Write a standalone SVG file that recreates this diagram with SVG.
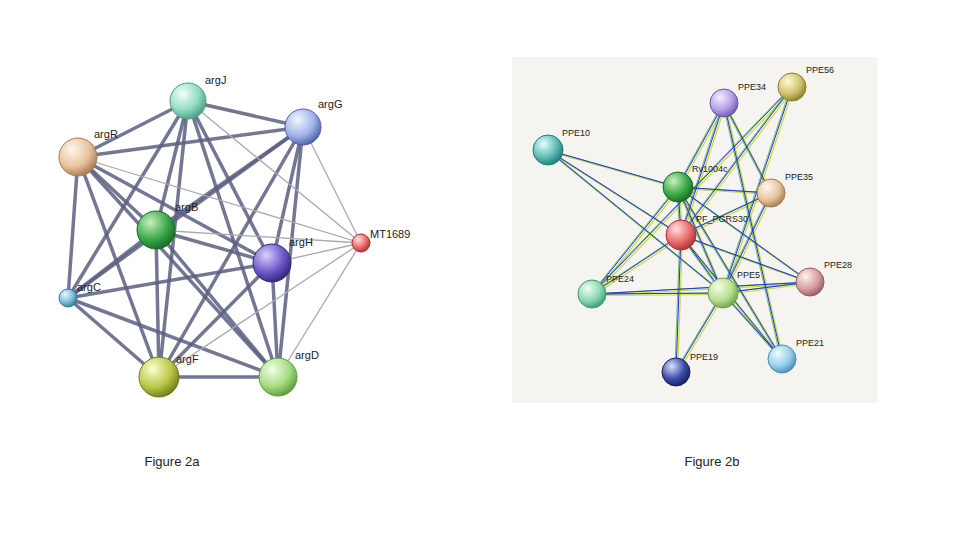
<svg xmlns="http://www.w3.org/2000/svg" xmlns:xlink="http://www.w3.org/1999/xlink" width="966" height="544" viewBox="0 0 966 544">
<style>
.l{font-family:"Liberation Sans",Arial,sans-serif;font-size:11px;fill:#222}
.s{font-family:"Liberation Sans",Arial,sans-serif;font-size:9px;fill:#222}
.cap{font-family:"Liberation Sans",Arial,sans-serif;font-size:13px;fill:#222;text-anchor:middle}
.t{stroke:#5b5f80;stroke-width:3.5;stroke-opacity:0.85}
.g{stroke:#a8a8b4;stroke-width:1.3}
.n{stroke-width:1}
</style>
<defs>
<radialGradient id="gJ" cx="0.35" cy="0.3" r="0.75"><stop offset="0" stop-color="#f4fff9"/><stop offset="0.6" stop-color="#92dcc0"/><stop offset="1" stop-color="#4a9c80"/></radialGradient>
<radialGradient id="gG" cx="0.35" cy="0.3" r="0.75"><stop offset="0" stop-color="#f2f5ff"/><stop offset="0.6" stop-color="#9fb4e8"/><stop offset="1" stop-color="#4c5ea8"/></radialGradient>
<radialGradient id="gR" cx="0.35" cy="0.3" r="0.75"><stop offset="0" stop-color="#fff6ee"/><stop offset="0.6" stop-color="#e8c49e"/><stop offset="1" stop-color="#a47a50"/></radialGradient>
<radialGradient id="gB" cx="0.35" cy="0.3" r="0.75"><stop offset="0" stop-color="#c8f0c0"/><stop offset="0.6" stop-color="#3caa48"/><stop offset="1" stop-color="#176a22"/></radialGradient>
<radialGradient id="gH" cx="0.35" cy="0.3" r="0.75"><stop offset="0" stop-color="#d8d0ff"/><stop offset="0.6" stop-color="#7058c8"/><stop offset="1" stop-color="#32227a"/></radialGradient>
<radialGradient id="gM" cx="0.35" cy="0.3" r="0.75"><stop offset="0" stop-color="#ffe0e0"/><stop offset="0.6" stop-color="#ea6a6a"/><stop offset="1" stop-color="#a83030"/></radialGradient>
<radialGradient id="gC" cx="0.35" cy="0.3" r="0.75"><stop offset="0" stop-color="#e8f8ff"/><stop offset="0.6" stop-color="#78bcd8"/><stop offset="1" stop-color="#307a98"/></radialGradient>
<radialGradient id="gF" cx="0.35" cy="0.3" r="0.75"><stop offset="0" stop-color="#fbffd0"/><stop offset="0.6" stop-color="#bcc84a"/><stop offset="1" stop-color="#707a18"/></radialGradient>
<radialGradient id="gD" cx="0.35" cy="0.3" r="0.75"><stop offset="0" stop-color="#f2ffe4"/><stop offset="0.6" stop-color="#a8dc84"/><stop offset="1" stop-color="#5a9a3a"/></radialGradient>
<radialGradient id="gT" cx="0.35" cy="0.3" r="0.75"><stop offset="0" stop-color="#e4fffb"/><stop offset="0.6" stop-color="#5cbcb4"/><stop offset="1" stop-color="#1e7a72"/></radialGradient>
<radialGradient id="gP" cx="0.35" cy="0.3" r="0.75"><stop offset="0" stop-color="#f4eeff"/><stop offset="0.6" stop-color="#b4a0e8"/><stop offset="1" stop-color="#6a54a8"/></radialGradient>
<radialGradient id="gO" cx="0.35" cy="0.3" r="0.75"><stop offset="0" stop-color="#fffbd8"/><stop offset="0.6" stop-color="#d0c470"/><stop offset="1" stop-color="#8a7e2a"/></radialGradient>
<radialGradient id="gK" cx="0.35" cy="0.3" r="0.75"><stop offset="0" stop-color="#fff0f0"/><stop offset="0.6" stop-color="#d8a0a0"/><stop offset="1" stop-color="#945c5c"/></radialGradient>
<radialGradient id="gN" cx="0.35" cy="0.3" r="0.75"><stop offset="0" stop-color="#d8e0ff"/><stop offset="0.6" stop-color="#3c4ca8"/><stop offset="1" stop-color="#18205e"/></radialGradient>
<radialGradient id="gS" cx="0.35" cy="0.3" r="0.75"><stop offset="0" stop-color="#f0fbff"/><stop offset="0.6" stop-color="#98d0ec"/><stop offset="1" stop-color="#4c8cb0"/></radialGradient>
<radialGradient id="gE" cx="0.35" cy="0.3" r="0.75"><stop offset="0" stop-color="#eafff2"/><stop offset="0.6" stop-color="#8cd8b0"/><stop offset="1" stop-color="#3e9870"/></radialGradient>
<radialGradient id="gV" cx="0.35" cy="0.3" r="0.75"><stop offset="0" stop-color="#f6ffe8"/><stop offset="0.6" stop-color="#b8e090"/><stop offset="1" stop-color="#6ea04a"/></radialGradient>
</defs>
<rect width="966" height="544" fill="#fff"/>
<rect x="512" y="57" width="365" height="346" fill="#f5f4f0"/>
<g id="connectors-a">
<g class="t">
<line x1="188" y1="101" x2="303" y2="127"/><line x1="188" y1="101" x2="78" y2="157"/><line x1="188" y1="101" x2="156" y2="230"/><line x1="188" y1="101" x2="272" y2="263"/><line x1="188" y1="101" x2="68" y2="298"/><line x1="188" y1="101" x2="159" y2="377"/><line x1="188" y1="101" x2="278" y2="377"/>
<line x1="303" y1="127" x2="78" y2="157"/><line x1="303" y1="127" x2="156" y2="230"/><line x1="303" y1="127" x2="272" y2="263"/><line x1="303" y1="127" x2="68" y2="298"/><line x1="303" y1="127" x2="159" y2="377"/><line x1="303" y1="127" x2="278" y2="377"/>
<line x1="78" y1="157" x2="156" y2="230"/><line x1="78" y1="157" x2="272" y2="263"/><line x1="78" y1="157" x2="68" y2="298"/><line x1="78" y1="157" x2="159" y2="377"/><line x1="78" y1="157" x2="278" y2="377"/>
<line x1="156" y1="230" x2="272" y2="263"/><line x1="156" y1="230" x2="68" y2="298"/><line x1="156" y1="230" x2="159" y2="377"/><line x1="156" y1="230" x2="278" y2="377"/>
<line x1="272" y1="263" x2="68" y2="298"/><line x1="272" y1="263" x2="159" y2="377"/><line x1="272" y1="263" x2="278" y2="377"/>
<line x1="68" y1="298" x2="159" y2="377"/><line x1="68" y1="298" x2="278" y2="377"/>
<line x1="159" y1="377" x2="278" y2="377"/>
</g>
<g class="g">
<line x1="361" y1="243" x2="303" y2="127"/><line x1="361" y1="243" x2="188" y2="101"/><line x1="361" y1="243" x2="78" y2="157"/><line x1="361" y1="243" x2="156" y2="230"/><line x1="361" y1="243" x2="272" y2="263"/><line x1="361" y1="243" x2="278" y2="377"/><line x1="361" y1="243" x2="159" y2="377"/>
</g>
</g>
<g id="connectors-b" fill="none">
<defs>
<g id="eb">
<line x1="548" y1="150" x2="678" y2="187"/><line x1="548" y1="150" x2="681" y2="235"/><line x1="548" y1="150" x2="723" y2="293"/>
<line x1="678" y1="187" x2="724" y2="103"/><line x1="678" y1="187" x2="771" y2="193"/><line x1="678" y1="187" x2="681" y2="235"/><line x1="678" y1="187" x2="592" y2="294"/><line x1="678" y1="187" x2="723" y2="293"/><line x1="678" y1="187" x2="782" y2="359"/><line x1="678" y1="187" x2="810" y2="282"/>
<line x1="681" y1="235" x2="724" y2="103"/><line x1="681" y1="235" x2="792" y2="87"/><line x1="681" y1="235" x2="771" y2="193"/><line x1="681" y1="235" x2="592" y2="294"/><line x1="681" y1="235" x2="723" y2="293"/><line x1="681" y1="235" x2="782" y2="359"/><line x1="681" y1="235" x2="676" y2="372"/><line x1="681" y1="235" x2="810" y2="282"/>
<line x1="724" y1="103" x2="771" y2="193"/><line x1="724" y1="103" x2="782" y2="359"/><line x1="792" y1="87" x2="723" y2="293"/><line x1="792" y1="87" x2="592" y2="294"/>
<line x1="771" y1="193" x2="723" y2="293"/><line x1="592" y1="294" x2="723" y2="293"/><line x1="592" y1="294" x2="810" y2="282"/>
<line x1="723" y1="293" x2="676" y2="372"/><line x1="723" y1="293" x2="810" y2="282"/><line x1="723" y1="293" x2="782" y2="359"/>
</g>
</defs>
<use xlink:href="#eb" stroke="#c8dc30" stroke-width="1.2" transform="translate(1.5,1.5)"/>
<use xlink:href="#eb" stroke="#44b050" stroke-width="0.8" transform="translate(-1.2,0)"/>
<use xlink:href="#eb" stroke="#2233dd" stroke-width="1"/>
</g>
<g id="argJ"><circle class="n" cx="188" cy="101" r="18" fill="url(#gJ)" stroke="#4a9c80"/><text class="l" x="205" y="84">argJ</text></g>
<g id="argG"><circle class="n" cx="303" cy="127" r="18" fill="url(#gG)" stroke="#4c5ea8"/><text class="l" x="318" y="108">argG</text></g>
<g id="argR"><circle class="n" cx="78" cy="157" r="19" fill="url(#gR)" stroke="#a47a50"/><text class="l" x="94" y="138">argR</text></g>
<g id="argB"><circle class="n" cx="156" cy="230" r="19" fill="url(#gB)" stroke="#176a22"/><text class="l" x="175" y="211">argB</text></g>
<g id="argH"><circle class="n" cx="272" cy="263" r="19" fill="url(#gH)" stroke="#32227a"/><text class="l" x="289" y="246">argH</text></g>
<g id="MT1689"><circle class="n" cx="361" cy="243" r="9" fill="url(#gM)" stroke="#a83030"/><text class="l" x="370" y="238">MT1689</text></g>
<g id="argC"><circle class="n" cx="68" cy="298" r="9" fill="url(#gC)" stroke="#307a98"/><text class="l" x="77" y="291">argC</text></g>
<g id="argF"><circle class="n" cx="159" cy="377" r="20" fill="url(#gF)" stroke="#707a18"/><text class="l" x="176" y="363">argF</text></g>
<g id="argD"><circle class="n" cx="278" cy="377" r="19" fill="url(#gD)" stroke="#5a9a3a"/><text class="l" x="295" y="359">argD</text></g>
<g id="PPE10"><circle class="n" cx="548" cy="150" r="15" fill="url(#gT)" stroke="#1e7a72"/><text class="s" x="562" y="136">PPE10</text></g>
<g id="Rv1004c"><circle class="n" cx="678" cy="187" r="15" fill="url(#gB)" stroke="#176a22"/><text class="s" x="692" y="172">Rv1004c</text></g>
<g id="PF_PGRS30"><circle class="n" cx="681" cy="235" r="15" fill="url(#gM)" stroke="#a83030"/><text class="s" x="696" y="222">PF_PGRS30</text></g>
<g id="PPE34"><circle class="n" cx="724" cy="103" r="14" fill="url(#gP)" stroke="#6a54a8"/><text class="s" x="738" y="90">PPE34</text></g>
<g id="PPE56"><circle class="n" cx="792" cy="87" r="14" fill="url(#gO)" stroke="#8a7e2a"/><text class="s" x="806" y="73">PPE56</text></g>
<g id="PPE35"><circle class="n" cx="771" cy="193" r="14" fill="url(#gR)" stroke="#a47a50"/><text class="s" x="785" y="180">PPE35</text></g>
<g id="PPE28"><circle class="n" cx="810" cy="282" r="14" fill="url(#gK)" stroke="#945c5c"/><text class="s" x="824" y="268">PPE28</text></g>
<g id="PPE24"><circle class="n" cx="592" cy="294" r="14" fill="url(#gE)" stroke="#3e9870"/><text class="s" x="606" y="282">PPE24</text></g>
<g id="PPE5"><circle class="n" cx="723" cy="293" r="15" fill="url(#gV)" stroke="#6ea04a"/><text class="s" x="737" y="278">PPE5</text></g>
<g id="PPE19"><circle class="n" cx="676" cy="372" r="14" fill="url(#gN)" stroke="#18205e"/><text class="s" x="690" y="360">PPE19</text></g>
<g id="PPE21"><circle class="n" cx="782" cy="359" r="14" fill="url(#gS)" stroke="#4c8cb0"/><text class="s" x="796" y="346">PPE21</text></g>
<text class="cap" x="172" y="466">Figure 2a</text>
<text class="cap" x="712" y="466">Figure 2b</text>
</svg>
